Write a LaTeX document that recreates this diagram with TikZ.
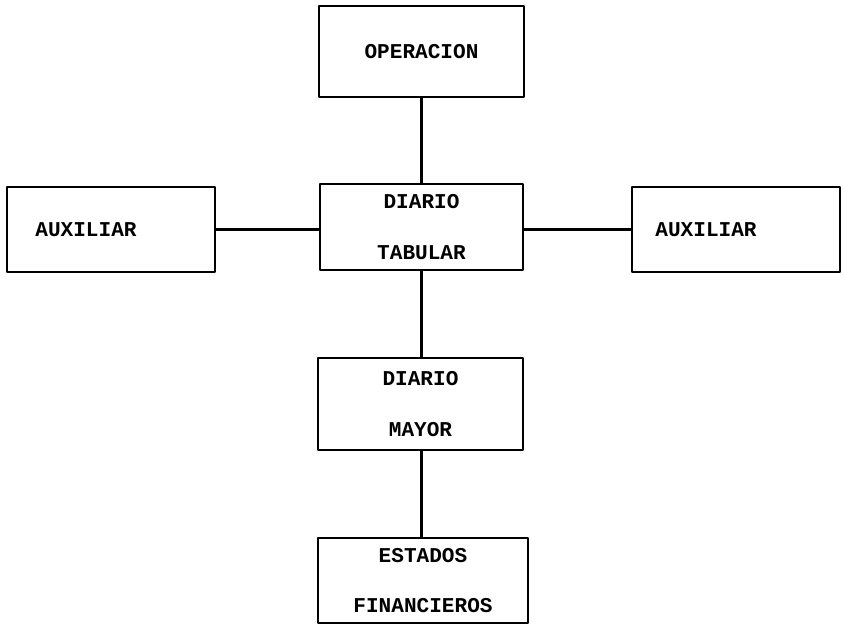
\documentclass[tikz,border=0pt]{standalone}
\usepackage{fontspec}
\setmonofont{Liberation Mono}
\usepackage{tikz}

\tikzset{
  caja/.style={draw, line width=2.2pt, inner sep=0pt, align=center,
    font=\ttfamily\bfseries\fontsize{18}{43}\selectfont},
  linea/.style={line width=2.2pt}
}

\begin{document}
\begin{tikzpicture}[x=0.03cm, y=-0.03cm, line cap=round, line join=round]
    \useasboundingbox (0,0) rectangle (844,625);

    % --- column ---
    \node[caja, minimum width=6.15cm, minimum height=2.73cm] (oper) at (421.5,51.5) {OPERACION};
    \node[caja, minimum width=6.09cm, minimum height=2.58cm] (tab) at (421.5,227) {DIARIO\\TABULAR};
    \node[caja, minimum width=6.15cm, minimum height=2.76cm] (mayor) at (420.5,404) {DIARIO\\MAYOR};
    \node[caja, minimum width=6.3cm, minimum height=2.55cm] (estados) at (423,580.5) {ESTADOS\\FINANCIEROS};

    % --- sides ---
    \node[caja, minimum width=6.24cm, minimum height=2.55cm] (auxl) at (111,229.5) {AUXILIAR\hspace*{1.5cm}};
    \node[caja, minimum width=6.24cm, minimum height=2.55cm] (auxr) at (736,229.5) {AUXILIAR\hspace*{1.8cm}};

    % connectors
    \draw[linea] (oper.south -| tab.north) -- (tab.north);
    \draw[linea] (tab.south) -- (tab.south |- mayor.north);
    \draw[linea] (mayor.south -| tab.south) -- (tab.south |- estados.north);
    \draw[linea] (auxl.east) -- (auxl.east -| tab.west);
    \draw[linea] (tab.east |- auxr.west) -- (auxr.west);
\end{tikzpicture}
\end{document}
